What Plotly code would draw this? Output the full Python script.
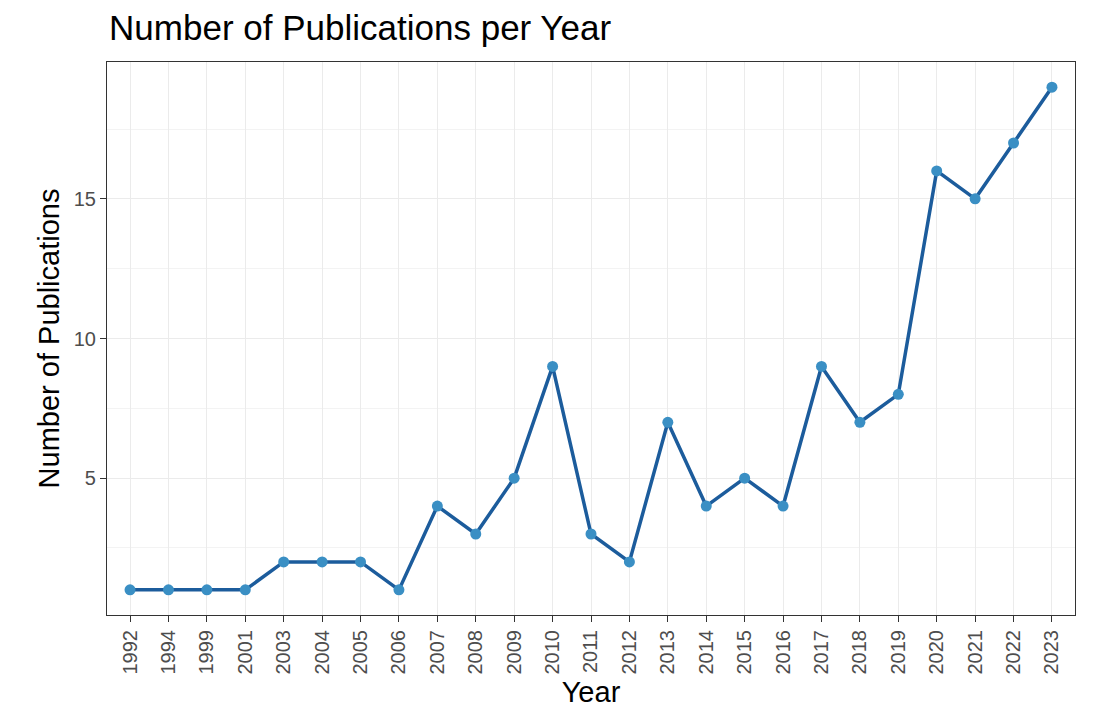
import plotly.graph_objects as go

# Publications per year
years = ["1992", "1994", "1999", "2001", "2003", "2004", "2005", "2006", "2007",
         "2008", "2009", "2010", "2011", "2012", "2013", "2014", "2015", "2016",
         "2017", "2018", "2019", "2020", "2021", "2022", "2023"]
counts = [1, 1, 1, 1, 2, 2, 2, 1, 4, 3, 5, 9, 3, 2, 7, 4, 5, 4, 9, 7, 8, 16, 15, 17, 19]

fig = go.Figure()

fig.add_trace(go.Scatter(x=years, y=counts, mode='lines',
                         line=dict(color='#1c5c9c', width=3.5),
                         hoverinfo='skip', showlegend=False))
fig.add_trace(go.Scatter(x=years, y=counts, mode='markers',
                         marker=dict(color='#3a8fc4', size=11),
                         text=[f"Year: {y}<br>Publications: {c}" for y, c in zip(years, counts)],
                         hoverinfo='text', showlegend=False))

# page body adds an 8px margin, so the figure is a bit smaller than the window
fig.update_layout(
    width=1099, height=700,
    margin=dict(l=99, r=32, t=54, b=93),
    paper_bgcolor='white', plot_bgcolor='white',
    font=dict(family='Liberation Sans, Arial, sans-serif', color='black'),
    title=dict(text="Number of Publications per Year", x=0.092, xanchor='left',
               y=0.972, yanchor='middle', font=dict(size=35, color='black')),
)

fig.update_xaxes(
    type='category', range=[-0.6, 24.6], automargin=False,
    title=dict(text="Year", font=dict(size=29), standoff=14),
    tickangle=-90, tickfont=dict(size=20, color='#4d4d4d'),
    ticks='outside', ticklen=6, tickcolor='#333333',
    showgrid=True, gridcolor='#ebebeb', gridwidth=1.2,
    showline=True, linecolor='#333333', linewidth=1.2, mirror=True,
    zeroline=False,
)

fig.update_yaxes(
    range=[0.1, 19.9], automargin=False,
    tickvals=[5, 10, 15],
    title=dict(text="Number of Publications", font=dict(size=29), standoff=5),
    tickfont=dict(size=20, color='#4d4d4d'),
    ticks='outside', ticklen=6, tickcolor='#333333',
    showgrid=True, gridcolor='#ebebeb', gridwidth=1.2,
    minor=dict(tickvals=[2.5, 7.5, 12.5, 17.5], showgrid=True,
               gridcolor='#f3f3f3', gridwidth=1, ticks=''),
    showline=True, linecolor='#333333', linewidth=1.2, mirror=True,
    zeroline=False,
)

fig.write_html("out.html")
